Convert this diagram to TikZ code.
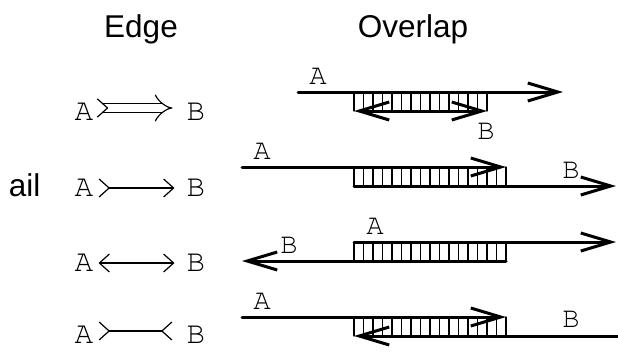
\documentclass[tikz,border=0pt]{standalone}
\usepackage{fontspec}
\setmainfont{Liberation Sans}
\newfontfamily\courier{TeX Gyre Cursor}
\usetikzlibrary{arrows.meta}
\tikzset{
  title/.style={font=\fontsize{31.5}{36}\selectfont, anchor=base},
  vlabel/.style={font=\fontsize{31}{34}\courier, inner sep=0pt},
  rlabel/.style={font=\fontsize{29}{32}\courier, inner sep=0pt},
  edge/.style={line width=1.2pt, shorten <=5pt, shorten >=12pt},
  read/.style={line width=3pt},
  rung/.style={line width=1.3pt},
  tail/.tip={Straight Barb[reversed,length=10pt,width=18pt]}
}

\begin{document}
\begin{tikzpicture}[line cap=round,line join=round,x=1pt,y=-1pt,
  >={Straight Barb[length=30pt,width=18pt]}]
\useasboundingbox (0,0) rectangle (618,351);

% headings
\node[title] (edgehead) at (141,37) {Edge};
\node[title] (ovlhead) at (413,37) {Overlap};
\node[font=\fontsize{31.5}{36}\selectfont, anchor=base east] (tailtxt) at (44,196) {ail};

% edge types
\node[vlabel] (a1) at (84,112) {A};
\node[vlabel] (b1) at (196,112) {B};
\node[vlabel] (a2) at (84,188) {A};
\node[vlabel] (b2) at (196,188) {B};
\node[vlabel] (a3) at (84,263) {A};
\node[vlabel] (b3) at (196,263) {B};
\node[vlabel] (a4) at (84,335) {A};
\node[vlabel] (b4) at (196,335) {B};

\begin{scope}[>={Straight Barb[length=10pt,width=18pt]}]
\draw [edge,line cap=butt,double,double distance=8.5pt,-{Implies}, shorten <=8.2pt, shorten >=14pt]
  ([yshift=4pt]a1.east) -- ([yshift=4pt]b1.west);
\draw [line width=1.2pt] ([xshift=4pt,yshift=13pt]a1.east) -- ++(10,9) -- ++(-10,9);
\draw [edge,tail->] (a2) -- (b2);
\draw [edge,<->] (a3) -- (b3);
\draw [edge,tail-tail, shorten >=14pt] ([yshift=4pt]a4.east) -- ([yshift=4pt]b4.west);
\end{scope}

% B contained in A
\foreach \x in {354,363.5,...,488} \draw [rung] (\x,92) -- (\x,111);
\draw [read,->] (298,92) -- (563,92);
\draw [read,<->] (354,111) -- (487,111);
\node[rlabel] (ra1) at (318,76) {A};
\node[rlabel] (rb1) at (486,131) {B};

% suffix of A on prefix of B
\foreach \x in {354,363.5,...,507} \draw [rung] (\x,167) -- (\x,186);
\draw [read,->] (242,167) -- (506,167);
\draw [read,->] (354,186) -- (616,186);
\node[rlabel] (ra2) at (262,151) {A};
\node[rlabel] (rb2) at (571,170) {B};

% B reversed, prefix overlap
\foreach \x in {354,363.5,...,507} \draw [rung] (\x,242) -- (\x,261);
\draw [read,->] (354,242) -- (616,242);
\draw [read,->] (506,261) -- (242,261);
\node[rlabel] (ra3) at (375,226) {A};
\node[rlabel] (rb3) at (289,245) {B};

% B reversed, suffix overlap
\foreach \x in {354,363.5,...,507} \draw [rung] (\x,317) -- (\x,336);
\draw [read,->] (242,317) -- (506,317);
\draw [read,->] (618,336) -- (354,336);
\node[rlabel] (ra4) at (262,301) {A};
\node[rlabel] (rb4) at (571,319) {B};
\end{tikzpicture}
\end{document}
